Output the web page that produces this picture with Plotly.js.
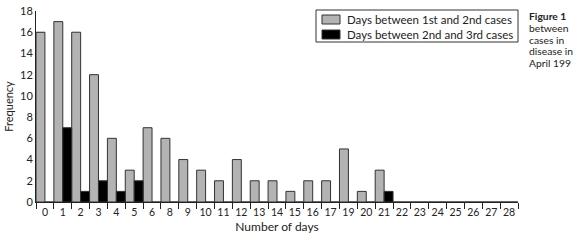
<!DOCTYPE html>
<html>
<head>
<meta charset="utf-8">
<script src="https://cdn.plot.ly/plotly-3.0.1.min.js"></script>
<style>
  html, body { margin: 0; padding: 0; background: #fff; }
  #chart { width: 573px; height: 250px; }
</style>
</head>
<body>
<div id="chart"></div>
<script>
// Interval (in days) between successive cases
const dayLabels = ['0','1','2','3','4','5','6','8','9','10','11','12','13','14','15','16','17',
                   '19','20','21','22','23','24','25','26','27','28'];
const firstToSecond = [16,17,16,12,6,3,7,6,4,3,2,4,2,2,1,2,2,5,1,3,0,0,0,0,0,0,0];
const secondToThird = [0,7,1,2,1,2,0,0,0,0,0,0,0,0,0,0,0,0,0,1,0,0,0,0,0,0,0];
const seriesNames = ['Days between 1st and 2nd cases', 'Days between 2nd and 3rd cases'];
const seriesColors = ['#b3b3b3', '#000000'];
const captionLines = ['<b>Figure 1</b>', 'between', 'cases in', 'disease in', 'April 199'];

const W = 573, H = 250;
const M = { l: 36, r: 55, t: 11, b: 48 };
const FONT = 'Lato, "Open Sans", sans-serif';
const INK = '#222';
const outline = { color: '#333333', width: 1 };

// pixel position on the page -> paper fraction of the plot area
const px = X => (X - M.l) / (W - M.l - M.r);
const py = Y => (H - M.b - Y) / (H - M.t - M.b);

const traces = seriesNames.map((name, i) => ({
  type: 'bar', name, x: dayLabels, y: i === 0 ? firstToSecond : secondToThird,
  marker: { color: seriesColors[i], line: outline }
}));

// boxed key in the upper right of the plot
const keyShapes = [
  { type: 'rect', xref: 'paper', yref: 'paper', x0: px(316), x1: px(518), y0: py(42), y1: py(10),
    line: { color: '#333', width: 1 }, fillcolor: '#fff', layer: 'above' }
];
const keyText = [];
seriesNames.forEach((name, i) => {
  const top = 15 + i * 15;
  keyShapes.push({ type: 'rect', xref: 'paper', yref: 'paper',
    x0: px(322), x1: px(340), y0: py(top + 9), y1: py(top),
    line: { color: '#333', width: 1 }, fillcolor: seriesColors[i], layer: 'above' });
  keyText.push({ xref: 'paper', yref: 'paper', x: px(345), y: py(top + 4.5),
    xanchor: 'left', yanchor: 'middle', showarrow: false, text: name,
    font: { family: FONT, size: 11.5, color: INK } });
});

const caption = captionLines.map((line, i) => ({
  xref: 'paper', yref: 'paper', x: px(527), y: py(16 + i * 11.8),
  xanchor: 'left', yanchor: 'middle', showarrow: false, text: line,
  font: { family: FONT, size: 10.3, color: INK }
}));

const layout = {
  width: W, height: H,
  margin: { l: M.l, r: M.r, t: M.t, b: M.b, pad: 0 },
  paper_bgcolor: '#ffffff', plot_bgcolor: '#ffffff',
  font: { family: FONT, size: 11, color: INK },
  barmode: 'group', bargap: 0, bargroupgap: 0,
  showlegend: false,
  xaxis: {
    type: 'category', range: [-0.5, 26.5], fixedrange: true,
    showline: true, linecolor: INK, linewidth: 1,
    ticks: 'outside', tickson: 'boundaries', ticklen: 6, tickcolor: INK,
    tickangle: 0, showgrid: false, zeroline: false,
    tickfont: { family: FONT, size: 10.5, color: INK },
    title: { text: 'Number of days', font: { family: FONT, size: 12, color: INK }, standoff: 6 },
    automargin: false
  },
  yaxis: {
    range: [0, 18], dtick: 2, fixedrange: true,
    showline: true, linecolor: INK, linewidth: 1,
    ticks: 'inside', ticklen: 8, tickcolor: INK,
    showgrid: false, zeroline: false, layer: 'below traces',
    tickfont: { family: FONT, size: 11, color: INK },
    title: { text: 'Frequency', font: { family: FONT, size: 11, color: INK }, standoff: 4 },
    automargin: false
  },
  shapes: keyShapes,
  annotations: keyText.concat(caption)
};

Plotly.newPlot('chart', traces, layout, { staticPlot: true, displayModeBar: false });
</script>
</body>
</html>
